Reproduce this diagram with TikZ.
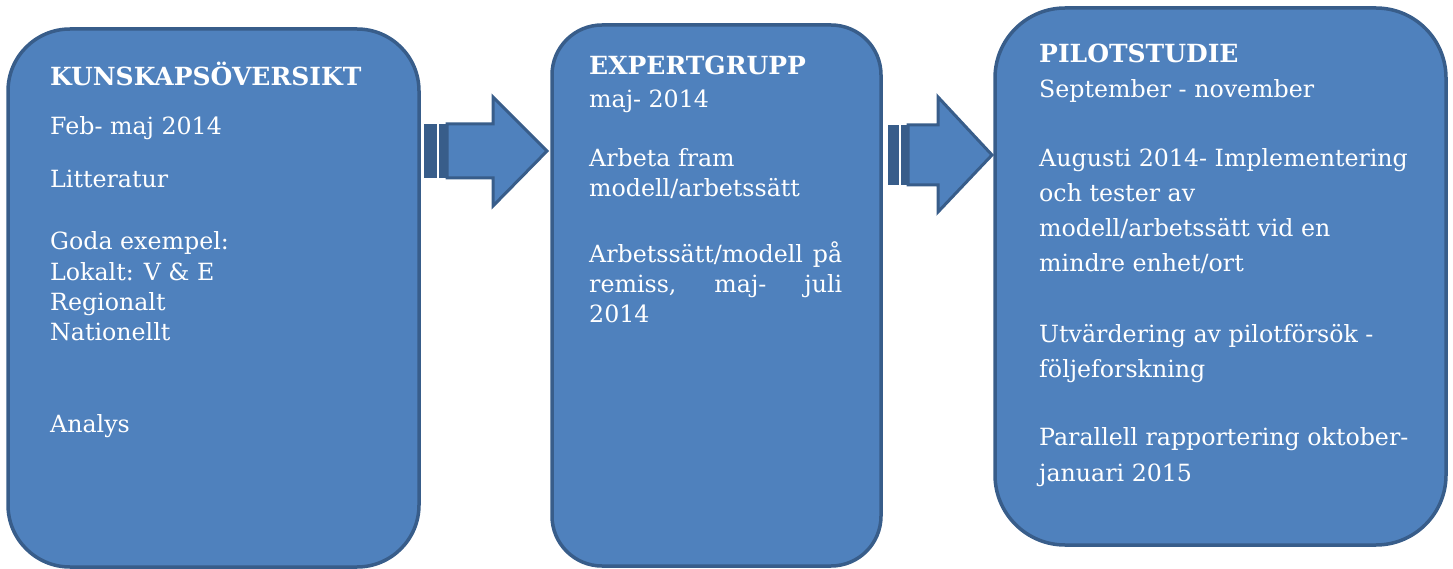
\documentclass[tikz,border=0pt]{standalone}
\usepackage{fontspec}
\setmainfont{DejaVu Serif}
\definecolor{boxfill}{HTML}{4F81BD}
\definecolor{boxline}{HTML}{385D8A}
\begin{document}
\begin{tikzpicture}[x=1pt,y=-1pt,
  panel/.style={draw=boxline, fill=boxfill, line width=3.5pt, inner sep=0pt},
  txt/.style={anchor=base west, inner sep=0pt, text=white, font=\fontsize{23.7}{30}\selectfont},
  hdr/.style={txt, font=\fontsize{25}{30}\selectfont\bfseries},
  arrowbody/.style={draw=boxline, fill=boxfill, line width=3pt, line join=miter},
  stripe/.style={fill=boxline}]
\useasboundingbox (0,0) rectangle (1453,569);

% panels
\node[panel, rounded corners=62pt, minimum width=411pt, minimum height=538pt] (b1) at (213.5,298) {};
\node[panel, rounded corners=50pt, minimum width=329pt, minimum height=541pt] (b2) at (716.5,295.5) {};
\node[panel, rounded corners=70pt, minimum width=451pt, minimum height=537pt] (b3) at (1220.5,276.5) {};

% arrow 1
\fill[stripe] (424,124) rectangle (437,178);
\fill[stripe] (438.5,124) rectangle (447,178);
\draw[arrowbody] (447,124) -- (493,124) -- (493,97) -- (547,151) -- (493,206) -- (493,178) -- (447,178) -- cycle;

% arrow 2
\fill[stripe] (888,125) rectangle (899,185);
\fill[stripe] (900.5,125) rectangle (908,185);
\draw[arrowbody] (908,125) -- (938,125) -- (938,97) -- (992,155) -- (938,212) -- (938,185) -- (908,185) -- cycle;

% box 1 text
\node[hdr] (k1) at (50,86) {KUNSKAPSÖVERSIKT};
\node[txt] (k2) at (50,135) {Feb- maj 2014};
\node[txt] (k3) at (50,188) {Litteratur};
\node[txt] (k4) at (50,250) {Goda exempel:};
\node[txt] (k5) at (50,280) {Lokalt: V \& E};
\node[txt] (k6) at (50,310) {Regionalt};
\node[txt] (k7) at (50,340) {Nationellt};
\node[txt] (k8) at (50,432) {Analys};

% box 2 text
\node[hdr] (e1) at (589,75) {EXPERTGRUPP};
\node[txt] (e2) at (589,108) {maj- 2014};
\node[txt] (e3) at (589,167) {Arbeta fram};
\node[txt] (e4) at (589,197) {modell/arbetssätt};
\node[txt] (e5) at (589,262) {\hbox to 253pt{Arbetssätt/modell\hfill på}};
\node[txt] (e6) at (589,292) {\hbox to 253pt{remiss,\hfill maj-\hfill juli}};
\node[txt] (e7) at (589,322) {2014};

% box 3 text
\node[hdr] (p1) at (1039,63) {PILOTSTUDIE};
\node[txt] (p2) at (1039,98) {September - november};
\node[txt] (p3) at (1039,167) {Augusti 2014- Implementering};
\node[txt] (p4) at (1039,202) {och tester av};
\node[txt] (p5) at (1039,237) {modell/arbetssätt vid en};
\node[txt] (p6) at (1039,272) {mindre enhet/ort};
\node[txt] (p7) at (1039,342) {Utvärdering av pilotförsök -};
\node[txt] (p8) at (1039,377) {följeforskning};
\node[txt] (p9) at (1039,445) {Parallell rapportering oktober-};
\node[txt] (p10) at (1039,481) {januari 2015};
\end{tikzpicture}
\end{document}
